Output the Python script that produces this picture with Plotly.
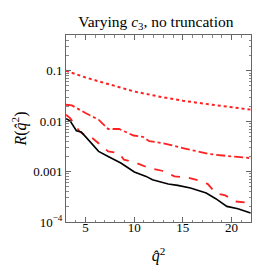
import plotly.graph_objects as go

# Data
x_solid = [3.0, 3.42, 4.07, 4.56, 4.98, 6.35, 7.33, 8.63, 10.02, 11.23, 11.88, 13.5, 14.48, 15.78, 17.4, 18.38, 19.52, 20.66, 21.96]
y_solid = [0.0112, 0.0102, 0.00646, 0.00608, 0.00499, 0.00252, 0.0020, 0.00148, 0.00098, 0.000803, 0.00069, 0.000566, 0.000532, 0.000472, 0.000375, 0.00029, 0.000204, 0.000184, 0.000151]

x_dash = [3.0, 3.42, 4.40, 4.98, 5.70, 6.35, 7.33, 8.46, 8.95, 10.25, 11.55, 12.85, 14.15, 15.46, 16.76, 17.57, 18.38, 19.36, 20.33, 21.96]
y_dash = [0.0134, 0.0115, 0.00626, 0.00522, 0.00462, 0.00368, 0.00252, 0.00233, 0.00172, 0.00148, 0.00117, 0.00104, 0.000803, 0.000767, 0.000659, 0.000566, 0.000375, 0.000337, 0.000256, 0.000238]

x_dashdot = [3.0, 3.6, 5.0, 6.35, 7.33, 8.46, 9.93, 10.9, 11.55, 12.85, 15.1, 17.08, 17.73, 20.0, 21.96]
y_dashdot = [0.0212, 0.0206, 0.0145, 0.0107, 0.0070, 0.0070, 0.0052, 0.0049, 0.0040, 0.0037, 0.0029, 0.0024, 0.00223, 0.0020, 0.00185]

x_dot = [3, 5, 7, 10, 13, 15, 18, 20, 22]
y_dot = [0.1, 0.0738, 0.0569, 0.0389, 0.0296, 0.0255, 0.0212, 0.0188, 0.0169]

y_tickvals = [0.1, 0.01, 0.001, 0.0001]
y_ticktext = ["0.1", "0.01", "0.001", "10<sup>\u22124</sup>"]
x_tickvals = [5, 10, 15, 20]

RED = "#ff2020"
FONT = "Liberation Serif, DejaVu Serif, serif"

fig = go.Figure()
fig.add_trace(go.Scatter(x=x_dot, y=y_dot, mode="lines", line=dict(color=RED, width=2, dash="dot")))
fig.add_trace(go.Scatter(x=x_dashdot, y=y_dashdot, mode="lines", line=dict(color=RED, width=1.8, dash="dashdot")))
fig.add_trace(go.Scatter(x=x_dash, y=y_dash, mode="lines", line=dict(color=RED, width=1.8, dash="dash")))
fig.add_trace(go.Scatter(x=x_solid, y=y_solid, mode="lines", line=dict(color="black", width=1.6)))

minor_y = []
for d in [1e-4, 1e-3, 1e-2, 1e-1]:
    for k in range(2, 10):
        v = d * k
        if v < 10 ** -0.29:
            minor_y.append(v)

fig.update_layout(
    width=264, height=273,
    margin=dict(l=49, r=21, t=27, b=59),
    paper_bgcolor="white", plot_bgcolor="white",
    showlegend=False,
    font=dict(family=FONT, color="black", size=13),
    title=dict(text="Varying <i>c</i><sub>3</sub>, no truncation", x=0.56, xanchor="center",
               y=0.952, yanchor="middle", font=dict(family=FONT, size=15.5)),
    xaxis=dict(range=[3, 22], tickvals=x_tickvals, ticks="inside", ticklen=5, tickcolor="#666",
               showline=True, linecolor="#666", linewidth=1, mirror="ticks", showgrid=False, zeroline=False,
               minor=dict(ticks="inside", ticklen=2.5, tickcolor="#888", dtick=1, showgrid=False),
               ticklabelstandoff=-7,
               title=dict(text="<i>q\u0302</i><sup>2</sup>", font=dict(family=FONT, size=16), standoff=16),
               tickfont=dict(family=FONT, size=13)),
    yaxis=dict(type="log", range=[-4, -0.29], tickvals=y_tickvals, ticktext=y_ticktext,
               ticks="inside", ticklen=5, tickcolor="#666",
               showline=True, linecolor="#666", linewidth=1, mirror="ticks", showgrid=False, zeroline=False,
               minor=dict(ticks="inside", ticklen=2.5, tickcolor="#888", tickvals=minor_y, showgrid=False),
               title=dict(text="<i>R</i>(<i>q\u0302</i><sup>2</sup>)", font=dict(family=FONT, size=16), standoff=2),
               tickfont=dict(family=FONT, size=13)),
)

fig.write_html("out.html")
